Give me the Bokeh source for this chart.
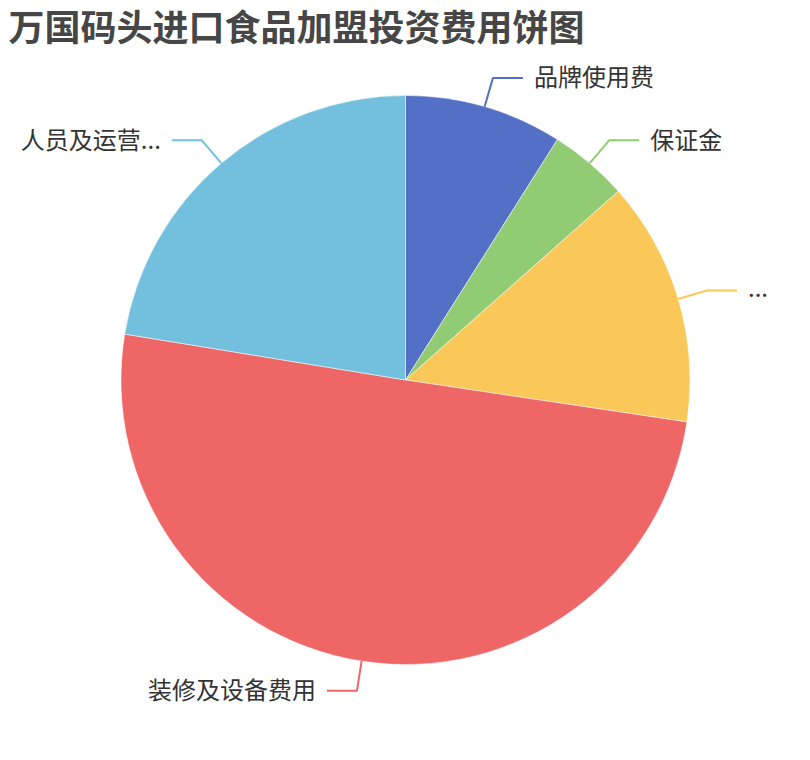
import numpy as np
from bokeh.plotting import figure
from bokeh.models import ColumnDataSource, Range1d
from bokeh.core.properties import value
from bokeh.embed import file_html
from bokeh.resources import INLINE

# data
title = "万国码头进口食品加盟投资费用饼图"
names = ["品牌使用费", "保证金", "...", "装修及设备费用", "人员及运营..."]
values = [2.0, 1.0, 3.1, 11.2, 5.0]
colors = ["#5470c6", "#91cc75", "#fac858", "#ee6666", "#73c0de"]

W, H = 794, 744
# plot coords: x = screen x, y = 760 - screen y
cx, cy, r = 405, 760 - 379.5, 284.5

vals = np.array(values)
cum = np.cumsum(vals) / vals.sum()
cum0 = np.concatenate([[0], cum[:-1]])
start = np.pi / 2 - 2 * np.pi * cum0
end = np.pi / 2 - 2 * np.pi * cum
mid = 2 * np.pi * (cum0 + cum) / 2   # clockwise from top

src = ColumnDataSource(data=dict(name=names, value=values, color=colors,
                                 start=start, end=end))

p = figure(width=W, height=H, x_range=Range1d(0, W), y_range=Range1d(760 - H, 760),
           x_axis_type=None, y_axis_type=None, toolbar_location=None,
           output_backend="svg", min_border=0)
p.grid.visible = False
p.outline_line_color = None
p.background_fill_color = "white"

p.wedge(x=cx, y=cy, radius=r, start_angle="start", end_angle="end",
        direction="clock", fill_color="color", line_color="white",
        line_width=0.5, source=src)

# leader lines and labels
xs, ys, lc = [], [], []
tx, ty, ta, tt = [], [], [], []
for i, m in enumerate(mid):
    sx, sy = np.sin(m), np.cos(m)
    x0, y0 = cx + r * sx, cy + r * sy
    x1, y1 = cx + (r + 30) * sx, cy + (r + 30) * sy
    d = 1 if sx >= 0 else -1
    x2 = x1 + 30 * d
    xs.append([x0, x1, x2])
    ys.append([y0, y1, y1])
    lc.append(colors[i])
    tx.append(x2 + 11 * d)
    ty.append(y1 + 2)
    ta.append("left" if d > 0 else "right")
    tt.append(names[i])

p.multi_line(xs=xs, ys=ys, line_color=lc, line_width=2)
p.text(x=tx, y=ty, text=tt, text_align=ta, text_baseline="middle",
       text_font=value("Noto Sans CJK SC"), text_font_size="24px",
       text_color="#333333")

p.text(x=[8], y=[760 - 24], text=[title], text_align="left", text_baseline="middle",
       text_font=value("Noto Sans CJK SC"), text_font_size="36px",
       text_font_style="bold", text_color="#464646")

open("out.html", "w").write(file_html(p, INLINE))
